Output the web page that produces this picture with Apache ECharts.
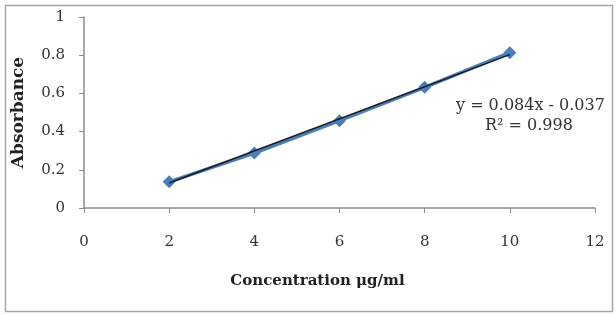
<!DOCTYPE html>
<html>
<head>
<meta charset="utf-8">
<script src="https://cdn.jsdelivr.net/npm/echarts@6/dist/echarts.min.js"></script>
<style>
  html, body { margin: 0; padding: 0; background: #fff; }
  #chart { width: 616px; height: 315px; }
</style>
</head>
<body>
<div id="chart"></div>
<script>
var concentration = [2, 4, 6, 8, 10];
var absorbance = [0.137, 0.288, 0.457, 0.632, 0.813];
// linear trend line ends
var trendX = [2, 10];
var trendY = [0.131, 0.803];
var equationText = "y = 0.084x - 0.037";
var r2Text = "R² = 0.998";

var serif = "DejaVu Serif";
var chart = echarts.init(document.getElementById("chart"), null, { renderer: "canvas" });

chart.setOption({
  backgroundColor: "#fff",
  animation: false,
  grid: { left: 84, right: 21, top: 17, bottom: 107 },
  xAxis: {
    type: "value",
    min: 0,
    max: 12,
    interval: 2,
    name: "Concentration μg/ml",
    nameLocation: "middle",
    nameGap: 66,
    nameTextStyle: {
      fontFamily: serif, fontWeight: "bold", fontSize: 15, color: "#222",
      padding: [0, 44, 0, 0]
    },
    axisLine: { lineStyle: { color: "#8c8c8c", width: 1.5 } },
    axisTick: { show: true, length: 5, lineStyle: { color: "#8c8c8c" } },
    axisLabel: { fontFamily: serif, fontSize: 15, color: "#333", margin: 27 },
    splitLine: { show: false }
  },
  yAxis: {
    type: "value",
    min: 0,
    max: 1,
    interval: 0.2,
    name: "Absorbance",
    nameLocation: "middle",
    nameGap: 57,
    nameRotate: 90,
    nameTextStyle: { fontFamily: serif, fontWeight: "bold", fontSize: 17, color: "#222" },
    axisLine: { show: true, lineStyle: { color: "#8c8c8c", width: 1.5 } },
    axisTick: { show: true, length: 5, lineStyle: { color: "#8c8c8c" } },
    axisLabel: { fontFamily: serif, fontSize: 15, color: "#333", margin: 19 },
    splitLine: { show: false }
  },
  series: [
    {
      type: "line",
      data: concentration.map(function (x, i) { return [x, absorbance[i]]; }),
      symbol: "diamond",
      symbolSize: 13,
      itemStyle: { color: "#4a7ebb" },
      lineStyle: { color: "#4a7ebb", width: 3.5 },
      z: 2
    },
    {
      type: "line",
      data: trendX.map(function (x, i) { return [x, trendY[i]]; }),
      symbol: "none",
      lineStyle: { color: "#1a1a1a", width: 1.5 },
      z: 3
    }
  ],
  graphic: [
    {
      type: "rect",
      shape: { x: 5.5, y: 5.5, width: 607, height: 306 },
      style: { fill: "none", stroke: "#a6a6a6", lineWidth: 1.5 },
      silent: true
    },
    {
      type: "text",
      left: 456,
      top: 98,
      style: { text: equationText, font: "16px '" + serif + "'", fill: "#333" }
    },
    {
      type: "text",
      left: 485,
      top: 118,
      style: { text: r2Text, font: "16px '" + serif + "'", fill: "#333" }
    }
  ]
});
</script>
</body>
</html>
